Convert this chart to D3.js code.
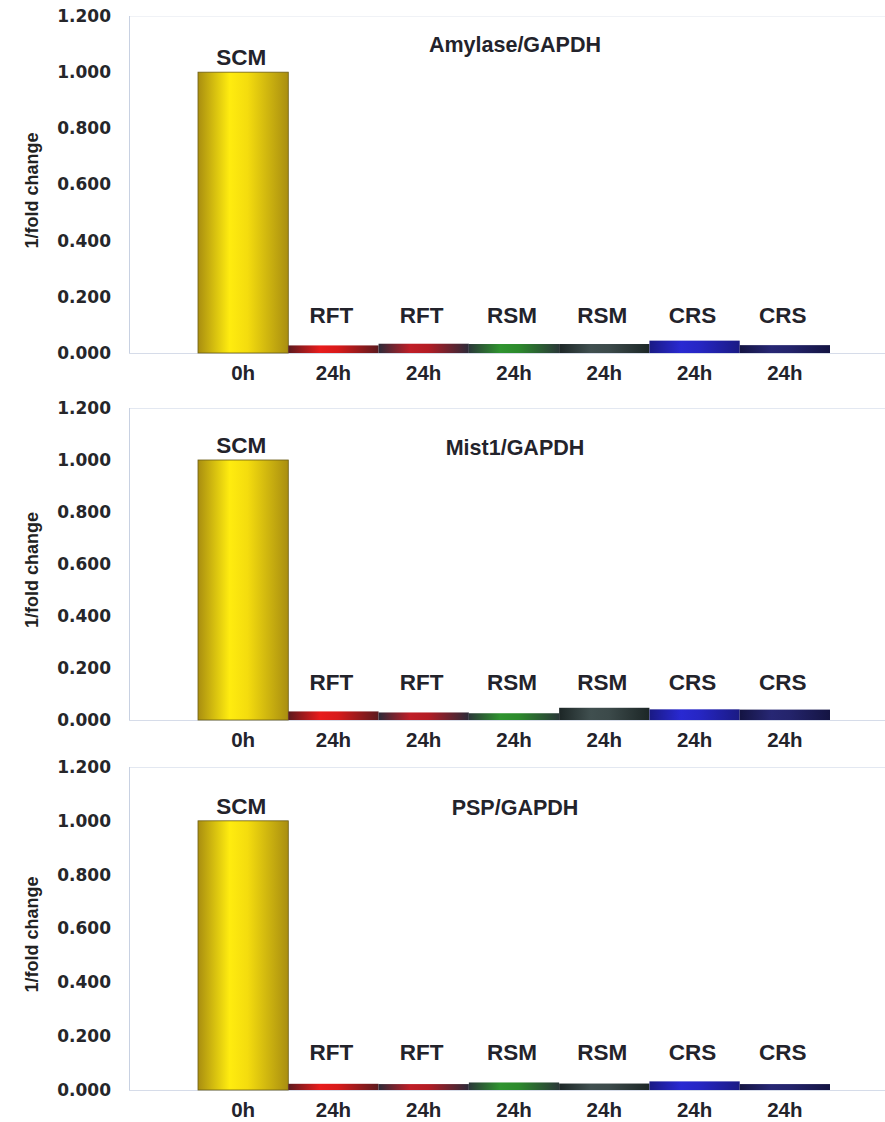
<!DOCTYPE html>
<html>
<head>
<meta charset="utf-8">
<script src="https://cdn.jsdelivr.net/npm/d3@7/dist/d3.min.js"></script>
<style>
  html, body { margin: 0; padding: 0; background: #fff; }
  svg { display: block; }
</style>
</head>
<body>
<div id="chart"></div>
<script>
'use strict';

// chart values
var groups = ['SCM', 'RFT', 'RFT', 'RSM', 'RSM', 'CRS', 'CRS'];
var timepoints = ['0h', '24h', '24h', '24h', '24h', '24h', '24h'];
var amylaseValues = [1.000, 0.027, 0.033, 0.032, 0.032, 0.044, 0.028];
var mist1Values = [1.000, 0.033, 0.029, 0.026, 0.047, 0.041, 0.040];
var pspValues = [1.000, 0.023, 0.022, 0.028, 0.024, 0.032, 0.022];
var panelTitles = ['Amylase/GAPDH', 'Mist1/GAPDH', 'PSP/GAPDH'];
var yTicks = [0, 0.2, 0.4, 0.6, 0.8, 1.0, 1.2];
var yLabel = '1/fold change';

// bar shading (centre colour, edge colour)
var barMid = ['#f4dc0e', '#d81a1a', '#b31c24', '#2c8a2c', '#3c4a4a', '#2626c4', '#24246c'];
var barEdge = ['#a98e10', '#5c1a1e', '#2c2a38', '#2a3838', '#1c2626', '#1a1a84', '#141442'];

// layout
var width = 885;
var height = 1122;
var panelTop = [16, 408, 767];
var panelBottom = [353, 720, 1090];
var panelTitleY = [52, 455, 815];
var frameLeft = 129;

var svg = d3.select('#chart')
            .append('svg')
            .attr('width', width)
            .attr('height', height);

var defs = svg.append('defs');
barMid.forEach(function(c, i) {
    var grad = defs.append('linearGradient')
        .attr('id', 'bar-grad-' + i)
        .attr('x1', 0).attr('x2', 1)
        .attr('y1', 0).attr('y2', 0);
    grad.append('stop').attr('offset', '0%').attr('stop-color', barEdge[i]);
    grad.append('stop').attr('offset', '35%').attr('stop-color', d3.color(c).brighter(0.2));
    grad.append('stop').attr('offset', '55%').attr('stop-color', c);
    grad.append('stop').attr('offset', '100%').attr('stop-color', barEdge[i]);
});

var x = d3.scaleBand()
    .domain(d3.range(groups.length))
    .range([198, 830])
    .padding(0);

var panelValues = [amylaseValues, mist1Values, pspValues];

panelValues.forEach(function(values, p) {
    var top = panelTop[p];
    var bottom = panelBottom[p];
    var y = d3.scaleLinear().domain([0, 1.2]).range([bottom, top]);

    var g = svg.append('g').attr('class', 'panel');

    // plot area frame (faint)
    g.append('line')
        .attr('x1', frameLeft).attr('x2', width)
        .attr('y1', top + 0.5).attr('y2', top + 0.5)
        .style('stroke', p === 0 ? '#f0f2f6' : '#e3e8f1');
    g.append('line')
        .attr('x1', frameLeft + 0.5).attr('x2', frameLeft + 0.5)
        .attr('y1', top).attr('y2', bottom)
        .style('stroke', '#c8d1e2');
    g.append('line')
        .attr('x1', frameLeft).attr('x2', width)
        .attr('y1', bottom + 0.5).attr('y2', bottom + 0.5)
        .style('stroke', '#d6dce9');

    // y axis labels
    var axis = g.append('g')
        .attr('transform', 'translate(111,0)')
        .call(d3.axisLeft(y)
            .tickValues(yTicks)
            .tickSize(0)
            .tickPadding(0)
            .tickFormat(d3.format('.3f')));
    axis.select('.domain').remove();
    axis.selectAll('text')
        .style('font-family', '"DejaVu Sans", sans-serif')
        .style('font-weight', 'bold')
        .style('font-size', '17px')
        .style('fill', '#26262a');

    // y axis title
    g.append('text')
        .attr('transform', 'translate(38,' + ((top + bottom) / 2 + 6) + ') rotate(-90)')
        .attr('text-anchor', 'middle')
        .style('font-family', '"Liberation Sans", Arial, sans-serif')
        .style('font-weight', 'bold')
        .style('font-size', '18px')
        .style('fill', '#222')
        .text(yLabel);

    // bars
    g.selectAll('rect.bar')
        .data(values)
        .enter()
        .append('rect')
        .attr('class', 'bar')
        .attr('x', function(d, i) { return x(i); })
        .attr('y', function(d) { return y(d); })
        .attr('width', x.bandwidth())
        .attr('height', function(d) { return bottom - y(d); })
        .style('fill', function(d, i) { return 'url(#bar-grad-' + i + ')'; })
        .style('stroke', function(d, i) { return i === 0 ? '#6b5c14' : 'none'; })
        .style('stroke-width', 0.8);

    // group labels above bars
    g.selectAll('text.group')
        .data(values)
        .enter()
        .append('text')
        .attr('class', 'group')
        .attr('x', function(d, i) { return x(i) + x.bandwidth() / 2 - 2; })
        .attr('y', function(d) { return Math.min(y(d) - 7, bottom - 30); })
        .attr('text-anchor', 'middle')
        .style('font-family', '"Liberation Sans", Arial, sans-serif')
        .style('font-weight', 'bold')
        .style('font-size', '22.5px')
        .style('fill', '#23232b')
        .text(function(d, i) { return groups[i]; });

    // time labels under bars
    g.selectAll('text.time')
        .data(timepoints)
        .enter()
        .append('text')
        .attr('class', 'time')
        .attr('x', function(d, i) { return x(i) + x.bandwidth() / 2; })
        .attr('y', bottom + 27)
        .attr('text-anchor', 'middle')
        .style('font-family', '"Liberation Sans", Arial, sans-serif')
        .style('font-weight', 'bold')
        .style('font-size', '20.5px')
        .style('fill', '#23232b')
        .text(function(d) { return d; });

    // panel title
    g.append('text')
        .attr('x', 515)
        .attr('y', panelTitleY[p])
        .attr('text-anchor', 'middle')
        .style('font-family', '"Liberation Sans", Arial, sans-serif')
        .style('font-weight', 'bold')
        .style('font-size', '21.5px')
        .style('fill', '#23232b')
        .text(panelTitles[p]);
});
</script>
</body>
</html>
